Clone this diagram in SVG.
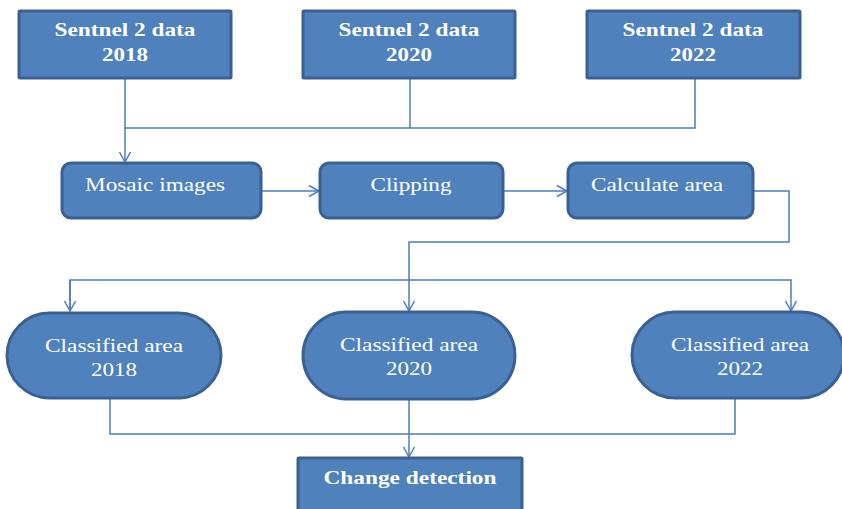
<svg xmlns="http://www.w3.org/2000/svg" width="842" height="509" viewBox="0 0 842 509">
<style>
.box{fill:#4F81BD;stroke:#3A6191;stroke-width:3}
.t{fill:#FFFFFF;font-family:"Liberation Serif","Times New Roman",serif;font-size:19px;text-anchor:middle}
.b{font-weight:bold}
.ln{fill:none;stroke:#4A7EBB;stroke-width:1.5}
</style>
<defs>
<marker id="arr" markerUnits="userSpaceOnUse" markerWidth="14" markerHeight="14" viewBox="0 0 14 14" refX="12" refY="7" orient="auto">
<path d="M2,1.5 L12,7 L2,12.5" fill="none" stroke="#4A7EBB" stroke-width="1.5"/>
</marker>
</defs>
<rect width="842" height="509" fill="#FFFFFF"/>
<g id="connectors">
<path class="ln" d="M125,78 V128 H695 V78"/>
<path class="ln" d="M410,78 V128"/>
<path class="ln" d="M125,128 V162" marker-end="url(#arr)"/>
<path class="ln" d="M261,191 H319" marker-end="url(#arr)"/>
<path class="ln" d="M503,191 H567" marker-end="url(#arr)"/>
<path class="ln" d="M753,191 H789 V242 H409 V311" marker-end="url(#arr)"/>
<path class="ln" d="M70,311 V280 H791 V311" marker-end="url(#arr)"/>
<path class="ln" d="M70,280 V311" marker-end="url(#arr)"/>
<path class="ln" d="M110,398 V434 H735 V398"/>
<path class="ln" d="M409,399 V457" marker-end="url(#arr)"/>
</g>
<g id="s2018">
<rect class="box" x="19" y="11" width="212" height="67" rx="1"/>
<text class="t b" x="125" y="36" textLength="141" lengthAdjust="spacingAndGlyphs">Sentnel 2 data</text>
<text class="t b" x="125" y="61" textLength="46" lengthAdjust="spacingAndGlyphs">2018</text>
</g>
<g id="s2020">
<rect class="box" x="303" y="11" width="212" height="67" rx="1"/>
<text class="t b" x="409" y="36" textLength="141" lengthAdjust="spacingAndGlyphs">Sentnel 2 data</text>
<text class="t b" x="409" y="61" textLength="46" lengthAdjust="spacingAndGlyphs">2020</text>
</g>
<g id="s2022">
<rect class="box" x="587" y="11" width="213" height="67" rx="1"/>
<text class="t b" x="693" y="36" textLength="141" lengthAdjust="spacingAndGlyphs">Sentnel 2 data</text>
<text class="t b" x="693" y="61" textLength="46" lengthAdjust="spacingAndGlyphs">2022</text>
</g>
<g id="mosaic">
<rect class="box" x="62" y="163" width="199" height="55" rx="9"/>
<text class="t" x="155" y="191" textLength="140" lengthAdjust="spacingAndGlyphs">Mosaic images</text>
</g>
<g id="clipping">
<rect class="box" x="320" y="163" width="183" height="55" rx="9"/>
<text class="t" x="411" y="191" textLength="81" lengthAdjust="spacingAndGlyphs">Clipping</text>
</g>
<g id="calc">
<rect class="box" x="568" y="163" width="185" height="55" rx="9"/>
<text class="t" x="657" y="191" textLength="132" lengthAdjust="spacingAndGlyphs">Calculate area</text>
</g>
<g id="c2018">
<rect class="box" x="7" y="313" width="214" height="85" rx="42.5"/>
<text class="t" x="114" y="352" textLength="138" lengthAdjust="spacingAndGlyphs">Classified area</text>
<text class="t" x="114" y="376" textLength="46" lengthAdjust="spacingAndGlyphs">2018</text>
</g>
<g id="c2020">
<rect class="box" x="303" y="312" width="212" height="87" rx="43.5"/>
<text class="t" x="409" y="351" textLength="138" lengthAdjust="spacingAndGlyphs">Classified area</text>
<text class="t" x="409" y="375" textLength="46" lengthAdjust="spacingAndGlyphs">2020</text>
</g>
<g id="c2022">
<rect class="box" x="632" y="312" width="212" height="86" rx="43"/>
<text class="t" x="740" y="351" textLength="138" lengthAdjust="spacingAndGlyphs">Classified area</text>
<text class="t" x="740" y="375" textLength="46" lengthAdjust="spacingAndGlyphs">2022</text>
</g>
<g id="change">
<rect class="box" x="298" y="458" width="224" height="60" rx="1"/>
<text class="t b" x="410" y="484" textLength="173" lengthAdjust="spacingAndGlyphs">Change detection</text>
</g>
</svg>
